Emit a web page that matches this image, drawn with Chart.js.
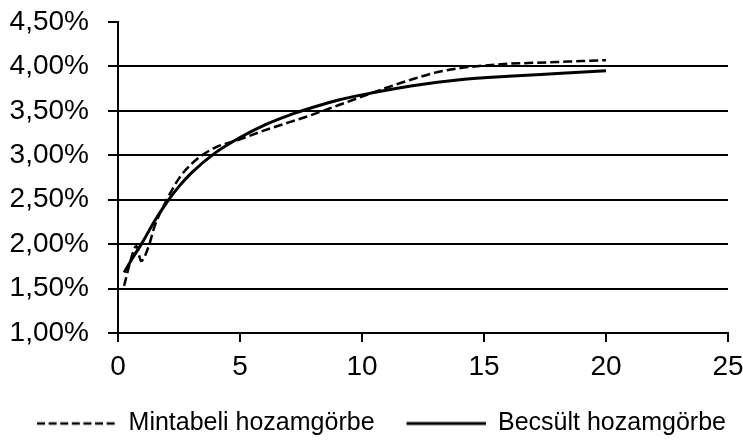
<!DOCTYPE html>
<html>
<head>
<meta charset="utf-8">
<script src="https://cdn.jsdelivr.net/npm/chart.js@4/dist/chart.umd.min.js"></script>
<style>
html,body{margin:0;padding:0;background:#fff;}
#wrap{width:743px;height:444px;}
</style>
</head>
<body>
<div id="wrap"><canvas id="c" width="743" height="444"></canvas></div>
<script>
// Series names
const seriesNames = ["Mintabeli hozamgörbe", "Becsült hozamgörbe"];
// Sample (observed) yield curve: maturity in years, yield in %
const sampleYears = [0.25, 0.5, 0.75, 0.95, 1.25, 1.5, 2, 2.5, 3, 3.5, 4, 5, 6, 7, 8, 9, 10, 11, 12, 13, 14, 15, 16, 17, 18, 19, 20];
const sampleYield = [1.53, 1.80, 1.98, 1.81, 1.97, 2.20, 2.50, 2.74, 2.90, 3.01, 3.09, 3.18, 3.28, 3.37, 3.46, 3.56, 3.66, 3.76, 3.85, 3.93, 3.98, 4.01, 4.03, 4.04, 4.05, 4.06, 4.07];
// Estimated (fitted) yield curve
const fitYears = [0.25, 0.5, 1, 1.5, 2, 2.5, 3, 4, 5, 6, 7, 8, 9, 10, 12, 14, 16, 18, 20];
const fitYield = [1.68, 1.80, 2.02, 2.26, 2.47, 2.65, 2.80, 3.03, 3.20, 3.34, 3.45, 3.54, 3.62, 3.68, 3.78, 3.85, 3.89, 3.92, 3.95];
// Axis ticks
const xTicks = [0, 5, 10, 15, 20, 25];
const yTicks = [1.0, 1.5, 2.0, 2.5, 3.0, 3.5, 4.0, 4.5];

const toPts = (xs, ys) => xs.map((x, i) => ({x: x, y: ys[i]}));
const FONT = "'Liberation Sans', Arial, sans-serif";

// line swatches for the legend (blank lead-in, then a 79px line)
const SW_W = 99, SW_LINE = 79;
function swatch(dash, width) {
  const cv = document.createElement('canvas');
  cv.width = SW_W; cv.height = 6;
  const g = cv.getContext('2d');
  g.strokeStyle = '#000';
  g.lineWidth = width;
  g.setLineDash(dash);
  g.beginPath(); g.moveTo(SW_W - SW_LINE, 3); g.lineTo(SW_W, 3); g.stroke();
  return cv;
}
const legendSwatches = [swatch([8, 3.6], 2.5), swatch([], 3)];

const legendShift = {
  id: 'legendShift',
  afterLayout(chart) {
    if (chart.legend) { chart.legend.top += 2; chart.legend.bottom += 2; }
  }
};

new Chart(document.getElementById('c'), {
  type: 'scatter',
  data: {
    datasets: [
      {
        label: seriesNames[0],
        data: toPts(sampleYears, sampleYield),
        showLine: true,
        borderColor: '#000',
        backgroundColor: '#000',
        borderWidth: 2.5,
        borderDash: [9, 4],
        pointRadius: 0,
        cubicInterpolationMode: 'monotone'
      },
      {
        label: seriesNames[1],
        data: toPts(fitYears, fitYield),
        showLine: true,
        borderColor: '#000',
        backgroundColor: '#000',
        borderWidth: 3,
        pointRadius: 0,
        cubicInterpolationMode: 'monotone'
      }
    ]
  },
  plugins: [legendShift],
  options: {
    responsive: false,
    animation: false,
    layout: {padding: {top: 0, right: 0, left: 0, bottom: 0}},
    plugins: {
      tooltip: {enabled: false},
      legend: {
        position: 'bottom',
        labels: {
          usePointStyle: true,
          pointStyleWidth: SW_W,
          boxHeight: 6,
          color: '#000',
          padding: 12,
          font: {family: FONT, size: 25},
          generateLabels: chart => chart.data.datasets.map((ds, i) => ({
            text: ds.label,
            fillStyle: '#000',
            strokeStyle: '#000',
            lineWidth: 0,
            pointStyle: legendSwatches[i],
            fontColor: '#000',
            hidden: false,
            datasetIndex: i
          }))
        }
      }
    },
    scales: {
      x: {
        type: 'linear',
        min: 0, max: 25,
        afterBuildTicks: axis => { axis.ticks = xTicks.map(v => ({value: v})); },
        afterFit: axis => { axis.height = 64; axis.paddingRight = 15; axis.paddingLeft = 0; },
        grid: {drawOnChartArea: false, drawTicks: true, tickLength: 9, color: '#000', lineWidth: 2},
        border: {color: '#000', width: 2},
        ticks: {color: '#000', font: {family: FONT, size: 28}, padding: 8, maxRotation: 0, autoSkip: false}
      },
      y: {
        type: 'linear',
        min: 1.0, max: 4.5,
        afterBuildTicks: axis => { axis.ticks = yTicks.map(v => ({value: v})); },
        afterFit: axis => { axis.width = 118; axis.paddingTop = 22; axis.paddingBottom = 0; },
        grid: {
          drawTicks: true, tickLength: 10,
          color: ctx => (ctx.tick && ctx.tick.value === 4.5) ? 'rgba(0,0,0,0)' : '#000',
          tickColor: '#000',
          lineWidth: 2
        },
        border: {color: '#000', width: 2},
        ticks: {
          color: '#000', font: {family: FONT, size: 28}, padding: 19, autoSkip: false,
          callback: v => v.toFixed(2).replace('.', ',') + '%'
        }
      }
    }
  }
});
</script>
</body>
</html>
